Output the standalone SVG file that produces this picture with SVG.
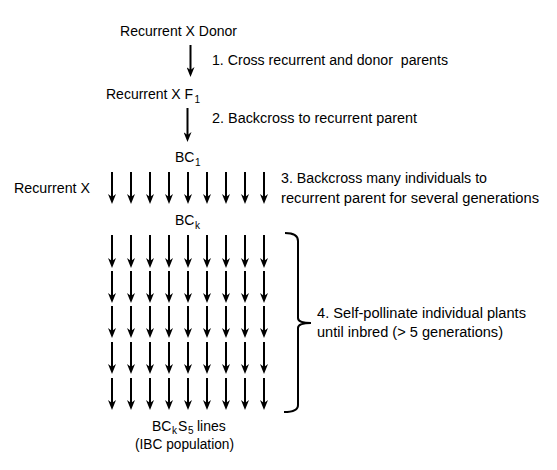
<svg xmlns="http://www.w3.org/2000/svg" width="557" height="470" viewBox="0 0 557 470">
<defs>
<marker id="ah" viewBox="0 0 10 8" refX="5" refY="4" markerWidth="10" markerHeight="8" markerUnits="userSpaceOnUse" orient="auto">
<path d="M0,0 L10,4 L0,8 L3,4 z" fill="#000"/>
</marker>
<style>
text{font-family:"Liberation Sans",Arial,sans-serif;font-size:14px;fill:#000}
.sub{font-size:10px}
.arr{stroke:#000;stroke-width:2;fill:none;marker-end:url(#ah)}
.br{stroke:#000;stroke-width:2;fill:none}
</style>
</defs>
<rect width="557" height="470" fill="#fff"/>
<g id="connectors">
<line class="arr" x1="190.5" y1="45" x2="190.5" y2="72"/>
<line class="arr" x1="187.5" y1="108" x2="187.5" y2="137"/>
<g id="bc-row">
<line class="arr" x1="112" y1="172" x2="112" y2="199"/>
<line class="arr" x1="131" y1="172" x2="131" y2="199"/>
<line class="arr" x1="150" y1="172" x2="150" y2="199"/>
<line class="arr" x1="169" y1="172" x2="169" y2="199"/>
<line class="arr" x1="188" y1="172" x2="188" y2="199"/>
<line class="arr" x1="207" y1="172" x2="207" y2="199"/>
<line class="arr" x1="226" y1="172" x2="226" y2="199"/>
<line class="arr" x1="245" y1="172" x2="245" y2="199"/>
<line class="arr" x1="264" y1="172" x2="264" y2="199"/>
</g>
<g id="self-rows">
<path class="arr" d="M112,235V263"/><path class="arr" d="M131,235V263"/><path class="arr" d="M150,235V263"/><path class="arr" d="M169,235V263"/><path class="arr" d="M188,235V263"/><path class="arr" d="M207,235V263"/><path class="arr" d="M226,235V263"/><path class="arr" d="M245,235V263"/><path class="arr" d="M264,235V263"/>
<path class="arr" d="M112,271V298"/><path class="arr" d="M131,271V298"/><path class="arr" d="M150,271V298"/><path class="arr" d="M169,271V298"/><path class="arr" d="M188,271V298"/><path class="arr" d="M207,271V298"/><path class="arr" d="M226,271V298"/><path class="arr" d="M245,271V298"/><path class="arr" d="M264,271V298"/>
<path class="arr" d="M112,306V333"/><path class="arr" d="M131,306V333"/><path class="arr" d="M150,306V333"/><path class="arr" d="M169,306V333"/><path class="arr" d="M188,306V333"/><path class="arr" d="M207,306V333"/><path class="arr" d="M226,306V333"/><path class="arr" d="M245,306V333"/><path class="arr" d="M264,306V333"/>
<path class="arr" d="M112,342V369"/><path class="arr" d="M131,342V369"/><path class="arr" d="M150,342V369"/><path class="arr" d="M169,342V369"/><path class="arr" d="M188,342V369"/><path class="arr" d="M207,342V369"/><path class="arr" d="M226,342V369"/><path class="arr" d="M245,342V369"/><path class="arr" d="M264,342V369"/>
<path class="arr" d="M112,378V405"/><path class="arr" d="M131,378V405"/><path class="arr" d="M150,378V405"/><path class="arr" d="M169,378V405"/><path class="arr" d="M188,378V405"/><path class="arr" d="M207,378V405"/><path class="arr" d="M226,378V405"/><path class="arr" d="M245,378V405"/><path class="arr" d="M264,378V405"/>
</g>
<path id="brace" class="br" d="M285,233 Q298,233 298,241 L298,318 Q298,323 311,323 Q298,323 298,328 L298,405 Q298,412 284,412"/>
</g>
<g id="n-parents"><text x="120" y="36" textLength="117" lengthAdjust="spacingAndGlyphs">Recurrent X Donor</text></g>
<g id="step1"><text x="212" y="65" xml:space="preserve" textLength="236" lengthAdjust="spacingAndGlyphs">1. Cross recurrent and donor  parents</text></g>
<g id="n-f1"><text x="106" y="99">Recurrent X F</text><text class="sub" x="194.5" y="103">1</text></g>
<g id="step2"><text x="212" y="123" textLength="205" lengthAdjust="spacingAndGlyphs">2. Backcross to recurrent parent</text></g>
<g id="n-bc1"><text x="175" y="162">BC</text><text class="sub" x="195" y="166">1</text></g>
<g id="n-recurrent"><text x="14" y="193" textLength="76" lengthAdjust="spacingAndGlyphs">Recurrent X</text></g>
<g id="step3"><text x="281" y="183" textLength="206" lengthAdjust="spacingAndGlyphs">3. Backcross many individuals to</text><text x="281" y="203" textLength="258" lengthAdjust="spacingAndGlyphs">recurrent parent for several generations</text></g>
<g id="n-bck"><text x="175" y="225">BC</text><text class="sub" x="195" y="229">k</text></g>
<g id="step4"><text x="317" y="318" textLength="209" lengthAdjust="spacingAndGlyphs">4. Self-pollinate individual plants</text><text x="317" y="337" textLength="186" lengthAdjust="spacingAndGlyphs">until inbred (&gt; 5 generations)</text></g>
<g id="n-lines"><text x="152" y="431">BC</text><text class="sub" x="172" y="434">k</text><text x="178" y="431">S</text><text class="sub" x="188" y="434">5</text><text x="197" y="431">lines</text><text x="135" y="449" textLength="99" lengthAdjust="spacingAndGlyphs">(IBC population)</text></g>
</svg>
